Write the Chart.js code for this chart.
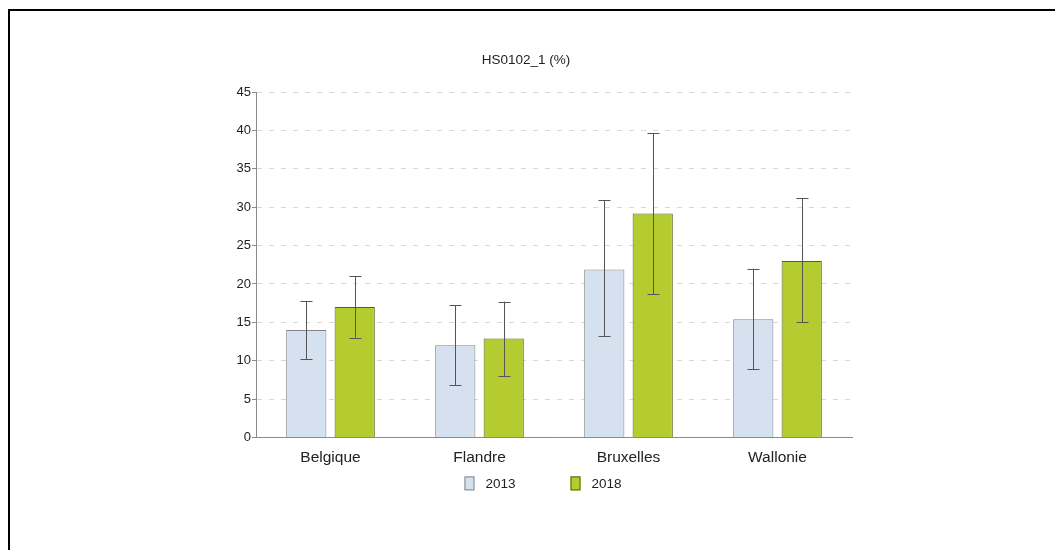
<!DOCTYPE html>
<html>
<head>
<meta charset="utf-8">
<script src="https://cdn.jsdelivr.net/npm/chart.js@4/dist/chart.umd.min.js"></script>
<style>
  html, body { margin: 0; padding: 0; background: #fff; overflow: hidden; }
  #frame { position: absolute; left: 8px; top: 9px; width: 1200px; height: 700px;
           border: 2px solid #000; box-sizing: border-box; }
  #myChart { position: absolute; left: 0; top: 0; }
</style>
</head>
<body>
<div id="frame"></div>
<canvas id="myChart" width="1055" height="550"></canvas>
<script>
// Data
const categories = ['Belgique', 'Flandre', 'Bruxelles', 'Wallonie'];
const years = ['2013', '2018'];
const values2013 = [14.0, 12.0, 21.9, 15.4];
const low2013 = [10.2, 6.8, 13.2, 8.9];
const high2013 = [17.8, 17.2, 30.9, 22.0];
const values2018 = [17.0, 12.9, 29.2, 23.0];
const low2018 = [13.0, 8.0, 18.7, 15.0];
const high2018 = [21.0, 17.7, 39.7, 31.2];
const yTicks = [0, 5, 10, 15, 20, 25, 30, 35, 40, 45];

const FONT = '"Liberation Sans", Arial, sans-serif';
const fill2013 = '#d5e1ef';
const edge2013 = '#808487';
const fill2018 = '#b4cc2f';
const edge2018 = '#55601f';

// Error bars drawn from the low/high arrays through the y scale
const errorBars = {
    id: 'errorBars',
    afterDatasetsDraw(chart) {
        const ctx = chart.ctx;
        const y = chart.scales.y;
        const ranges = [[low2013, high2013], [low2018, high2018]];
        ctx.save();
        ctx.strokeStyle = '#555';
        ctx.lineWidth = 1;
        chart.data.datasets.forEach((ds, di) => {
            const meta = chart.getDatasetMeta(di);
            meta.data.forEach((bar, i) => {
                const x = Math.round(bar.x) + 0.5;
                const yl = y.getPixelForValue(ranges[di][0][i]);
                const yh = y.getPixelForValue(ranges[di][1][i]);
                ctx.beginPath();
                ctx.moveTo(x, yh); ctx.lineTo(x, yl);
                ctx.moveTo(x - 6, Math.round(yh) + 0.5); ctx.lineTo(x + 6, Math.round(yh) + 0.5);
                ctx.moveTo(x - 6, Math.round(yl) + 0.5); ctx.lineTo(x + 6, Math.round(yl) + 0.5);
                ctx.stroke();
            });
        });
        ctx.restore();
    }
};

// Legend under the axis labels, wide spacing between the two items
const wideLegend = {
    id: 'wideLegend',
    afterDraw(chart) {
        const ctx = chart.ctx;
        const cy = chart.chartArea.bottom + 46;
        const cx = 543;
        const boxW = 10, boxH = 14, gap = 11, itemGap = 55;
        ctx.save();
        ctx.font = '13.5px ' + FONT;
        ctx.textBaseline = 'middle';
        const widths = years.map(t => boxW + gap + ctx.measureText(t).width);
        let x = cx - (widths[0] + itemGap + widths[1]) / 2;
        chart.data.datasets.forEach((ds, i) => {
            ctx.fillStyle = ds.backgroundColor;
            ctx.fillRect(x, cy - boxH / 2, boxW, boxH);
            ctx.strokeStyle = ds.borderColor;
            ctx.lineWidth = 1;
            ctx.strokeRect(x + 0.5, cy - boxH / 2 + 0.5, boxW - 1, boxH - 1);
            ctx.fillStyle = '#222';
            ctx.fillText(years[i], x + boxW + gap, cy + 1);
            x += widths[i] + itemGap;
        });
        ctx.restore();
    }
};

document.addEventListener("DOMContentLoaded", () => {
    const ctx = document.getElementById("myChart").getContext("2d");

    new Chart(ctx, {
        type: 'bar',
        data: {
            labels: categories,
            datasets: [
                { label: years[0], data: values2013, backgroundColor: fill2013,
                  borderColor: edge2013, borderWidth: 1 },
                { label: years[1], data: values2018, backgroundColor: fill2018,
                  borderColor: edge2018, borderWidth: 1 }
            ]
        },
        options: {
            responsive: false,
            animation: false,
            devicePixelRatio: 1,
            categoryPercentage: 0.65,
            barPercentage: 0.83,
            layout: { padding: { left: 200, right: 203, top: 0, bottom: 72 } },
            plugins: {
                legend: { display: false },
                tooltip: { enabled: false },
                title: {
                    display: true,
                    text: 'HS0102_1 (%)',
                    color: '#222',
                    font: { family: FONT, size: 13.5, weight: 'normal' },
                    padding: { top: 52, bottom: 24 }
                }
            },
            scales: {
                x: {
                    grid: { display: false, drawTicks: false },
                    border: { display: true, color: '#8a8a8a', width: 1 },
                    ticks: { color: '#222', padding: 11,
                             font: { family: FONT, size: 15.5 } }
                },
                y: {
                    min: 0,
                    max: 45,
                    afterBuildTicks: axis => { axis.ticks = yTicks.map(v => ({ value: v })); },
                    afterFit: axis => { axis.width = 56; },
                    grid: {
                        color: ctx => ctx.tick && ctx.tick.value === 0 ? 'rgba(0,0,0,0)' : '#d9d9d9',
                        tickColor: '#8a8a8a',
                        tickLength: 4,
                        drawTicks: true
                    },
                    border: { display: true, color: '#8a8a8a', width: 1, dash: [5, 7] },
                    ticks: { color: '#222', padding: 1,
                             font: { family: FONT, size: 13 } }
                }
            }
        },
        plugins: [errorBars, wideLegend]
    });
});
</script>
</body>
</html>
